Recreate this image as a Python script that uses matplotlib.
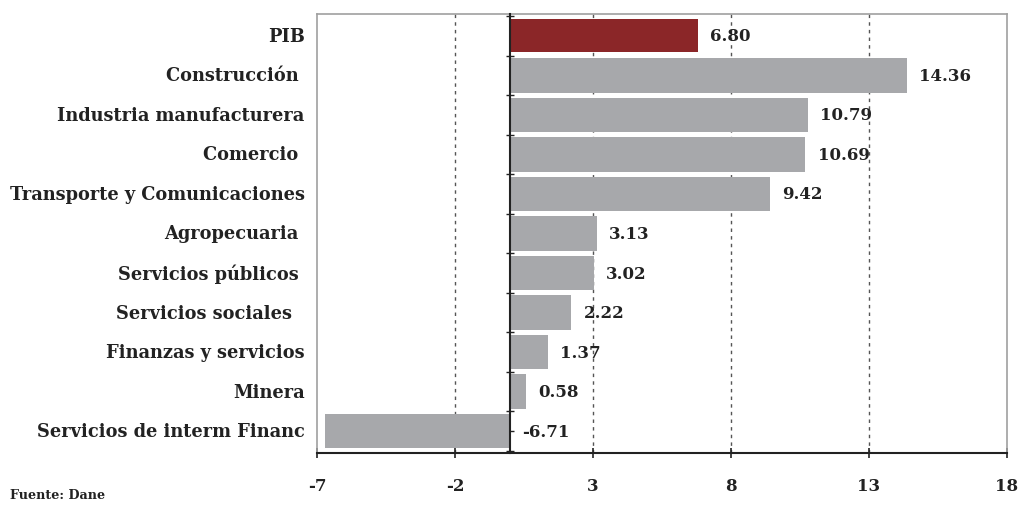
import matplotlib
matplotlib.use("Agg")
import matplotlib.pyplot as plt
import numpy as np

sectores = ["PIB", "Construcción ", "Industria manufacturera", "Comercio ",
            "Transporte y Comunicaciones", "Agropecuaria ", "Servicios públicos ",
            "Servicios sociales  ", "Finanzas y servicios", "Minera",
            "Servicios de interm Financ"]
valores = [6.80, 14.36, 10.79, 10.69, 9.42, 3.13, 3.02, 2.22, 1.37, 0.58, -6.71]
x_ticks = [-7, -2, 3, 8, 13, 18]

plt.rcParams["font.family"] = ["DejaVu Serif"]
plt.rcParams["font.weight"] = "bold"

rojo = "#8B2628"
gris = "#A7A8AB"
gris_borde = "#A0A0A0"
texto = "#222222"
fs = 12

fig = plt.figure(figsize=(10.22, 5.06), dpi=100)
ax = fig.add_axes([317 / 1022, 1 - 454 / 506, 690 / 1022, 439 / 506])

pos = np.arange(len(sectores))
colores = [rojo] + [gris] * (len(sectores) - 1)
alturas = [0.83] + [0.87] * (len(sectores) - 1)
ax.barh(pos, valores, height=alturas, color=colores, zorder=2)

ax.set_xlim(-7, 18)
ax.set_ylim(len(sectores) - 0.45, -0.55)

for xg in x_ticks[1:-1]:
    ax.axvline(xg, color="#555555", lw=1.0, ls=(0, (2.5, 3)), zorder=1)

# etiquetas de valor
for i, v in enumerate(valores):
    xt = max(v, 0) + 0.45
    ax.text(xt, i, f"{v:.2f}", va="center", ha="left", fontsize=fs,
            fontweight="bold", color=texto, zorder=3)

# etiquetas de categoria a la izquierda del recuadro
for i, s in enumerate(sectores):
    ax.text(-0.018, i, s, transform=ax.get_yaxis_transform(), ha="right",
            va="center", fontsize=12.8, fontweight="bold", color=texto)

ax.text(10 / 1022, 1 - 496 / 506, "Fuente: Dane", transform=fig.transFigure,
        fontsize=9.2, fontweight="bold", color=texto, va="center", ha="left")

# ejes
ax.spines["left"].set_position(("data", 0))
ax.spines["left"].set_color(texto)
ax.spines["left"].set_linewidth(1.5)
ax.spines["left"].set_zorder(4)
ax.spines["bottom"].set_color(texto)
ax.spines["bottom"].set_linewidth(1.5)
for s in ["top", "right"]:
    ax.spines[s].set_color(gris_borde)
    ax.spines[s].set_linewidth(1.2)
ax.plot([0, 0], [0, 1], transform=ax.transAxes, color=gris_borde, lw=1.2,
        clip_on=False)

ax.set_yticks(np.arange(len(sectores) + 1) - 0.5)
ax.set_yticks(pos, minor=True)
ax.tick_params(axis="y", which="major", direction="inout", length=6,
               width=1.0, labelleft=False, color=texto)
ax.tick_params(axis="y", which="minor", direction="in", length=3,
               width=1.0, color=texto)

ax.set_xticks(x_ticks)
ax.set_xticklabels([str(t) for t in x_ticks])
ax.tick_params(axis="x", direction="inout", length=7, width=1.2, pad=14,
               labelsize=fs, color=texto, labelcolor=texto)

fig.savefig("out.png", dpi=100)
